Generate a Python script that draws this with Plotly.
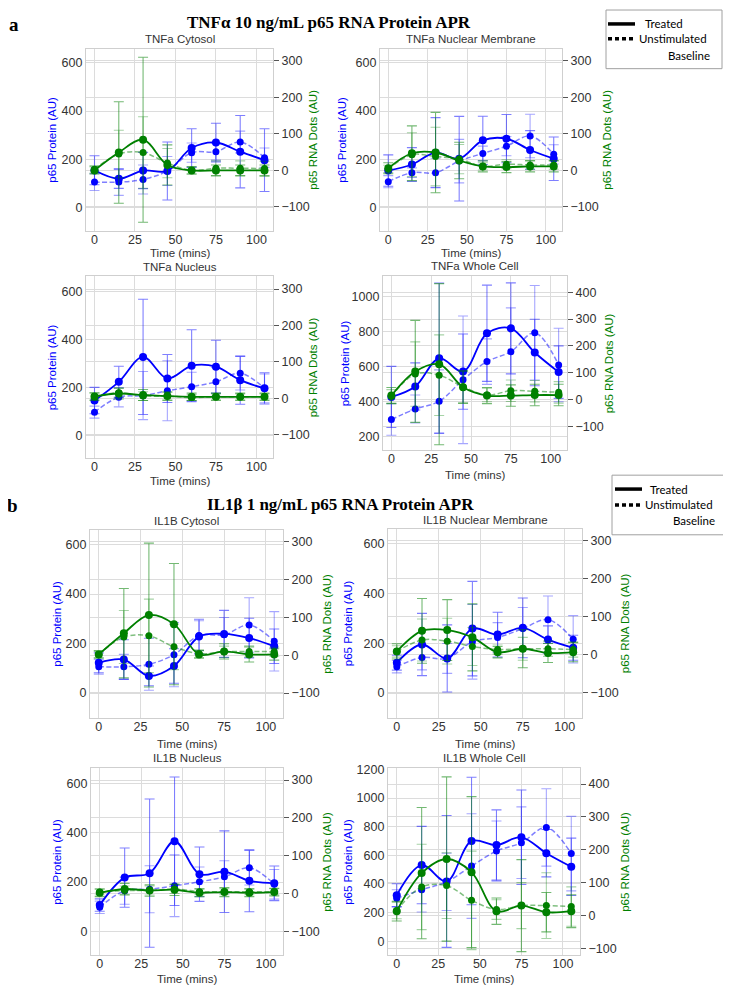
import plotly.graph_objects as go

time_pts = [0, 15, 30, 45, 60, 75, 90, 105]
x_ticks = [0, 25, 50, 75, 100]

# ---- TNFa Cytosol ----
tnf_cyto_prot_trt = [155, 120, 154, 152, 247, 270, 232, 197]
tnf_cyto_prot_trt_err = [60, 40, 75, 120, 80, 80, 150, 130]
tnf_cyto_prot_base = [106, 106, 117, 152, 228, 232, 272, 207]
tnf_cyto_prot_base_err = [35, 55, 60, 60, 40, 35, 45, 40]
tnf_cyto_rna_trt = [0, 49, 84, 15, 0, 0, 0, 0]
tnf_cyto_rna_trt_err = [10, 139, 226, 55, 10, 15, 15, 15]
tnf_cyto_rna_base = [3, 45, 49, 20, 0, 6, 6, 5]
tnf_cyto_rna_base_err = [10, 65, 98, 40, 10, 20, 20, 20]

# ---- TNFa Nuclear Membrane ----
tnf_nm_prot_trt = [154, 179, 228, 203, 279, 286, 239, 203]
tnf_nm_prot_trt_err = [65, 70, 145, 175, 100, 100, 80, 90]
tnf_nm_prot_base = [108, 145, 145, 193, 225, 255, 297, 221]
tnf_nm_prot_base_err = [25, 20, 60, 90, 30, 40, 90, 40]
tnf_nm_rna_trt = [6, 47, 49, 27, 11, 9, 11, 11]
tnf_nm_rna_trt_err = [15, 75, 110, 50, 15, 15, 15, 15]
tnf_nm_rna_base = [4, 43, 38, 31, 11, 17, 15, 15]
tnf_nm_rna_base_err = [10, 60, 80, 40, 10, 12, 12, 12]

# ---- TNFa Nucleus ----
tnf_nuc_prot_trt = [145, 223, 327, 237, 290, 286, 230, 196]
tnf_nuc_prot_trt_err = [55, 65, 240, 100, 150, 110, 100, 65]
tnf_nuc_prot_base = [97, 159, 166, 186, 203, 223, 259, 196]
tnf_nuc_prot_base_err = [25, 40, 100, 125, 60, 60, 70, 60]
tnf_nuc_rna_trt = [5, 13, 9, 6, 4, 4, 4, 4]
tnf_nuc_rna_trt_err = [10, 15, 15, 12, 10, 10, 10, 10]
tnf_nuc_rna_base = [4, 15, 6, 6, 2, 4, 4, 4]
tnf_nuc_rna_base_err = [10, 12, 12, 10, 8, 8, 8, 8]

# ---- TNFa Whole Cell ----
tnf_wc_prot_trt = [425, 485, 646, 570, 789, 817, 679, 567]
tnf_wc_prot_trt_err = [175, 135, 430, 215, 275, 260, 190, 150]
tnf_wc_prot_base = [296, 356, 400, 523, 627, 684, 792, 608]
tnf_wc_prot_base_err = [90, 80, 180, 365, 130, 250, 270, 210]
tnf_wc_rna_trt = [15, 105, 132, 46, 15, 15, 17, 17]
tnf_wc_rna_trt_err = [30, 190, 300, 60, 30, 40, 40, 40]
tnf_wc_rna_base = [12, 95, 91, 48, 17, 33, 31, 27]
tnf_wc_rna_base_err = [25, 120, 150, 60, 25, 40, 40, 40]

# ---- IL1B Cytosol ----
il_cyto_prot_trt = [122, 135, 69, 109, 228, 239, 222, 189]
il_cyto_prot_trt_err = [40, 80, 40, 70, 70, 95, 80, 70]
il_cyto_prot_base = [106, 106, 116, 155, 232, 235, 275, 209]
il_cyto_prot_base_err = [30, 50, 105, 130, 60, 70, 110, 120]
il_cyto_rna_trt = [2, 58, 106, 82, 2, 10, 2, 2]
il_cyto_rna_trt_err = [10, 118, 190, 160, 10, 20, 20, 15]
il_cyto_rna_base = [2, 48, 51, 22, 4, 9, 10, 9]
il_cyto_rna_base_err = [8, 70, 97, 60, 10, 15, 15, 12]

# ---- IL1B Nuclear Membrane ----
il_nm_prot_trt = [122, 195, 139, 259, 235, 262, 215, 182]
il_nm_prot_trt_err = [30, 125, 135, 190, 90, 120, 55, 50]
il_nm_prot_base = [106, 143, 139, 206, 223, 259, 295, 216]
il_nm_prot_base_err = [25, 50, 60, 150, 60, 85, 95, 95]
il_nm_rna_trt = [9, 63, 65, 46, 7, 16, 5, 7]
il_nm_rna_trt_err = [20, 85, 80, 88, 15, 50, 25, 25]
il_nm_rna_base = [9, 39, 36, 22, 14, 16, 16, 14]
il_nm_rna_base_err = [15, 55, 60, 50, 12, 30, 20, 20]

# ---- IL1B Nucleus ----
il_nuc_prot_trt = [107, 218, 236, 365, 232, 242, 205, 195]
il_nuc_prot_trt_err = [25, 120, 300, 260, 110, 165, 125, 70]
il_nuc_prot_base = [98, 165, 171, 185, 201, 221, 258, 191]
il_nuc_prot_base_err = [25, 55, 95, 125, 60, 65, 70, 60]
il_nuc_rna_trt = [2, 12, 8, 10, 2, 4, 2, 4]
il_nuc_rna_trt_err = [10, 15, 15, 15, 10, 12, 10, 10]
il_nuc_rna_base = [4, 8, 8, 12, 5, 5, 5, 5]
il_nuc_rna_base_err = [8, 12, 12, 12, 8, 8, 8, 8]

# ---- IL1B Whole Cell ----
il_wc_prot_trt = [322, 532, 418, 700, 672, 726, 615, 520]
il_wc_prot_trt_err = [80, 270, 460, 445, 245, 330, 165, 200]
il_wc_prot_base = [300, 360, 415, 525, 630, 688, 795, 612]
il_wc_prot_base_err = [60, 155, 200, 365, 210, 250, 270, 260]
il_wc_rna_trt = [13, 129, 172, 132, 13, 30, 10, 13]
il_wc_rna_trt_err = [30, 200, 250, 230, 40, 140, 60, 50]
il_wc_rna_base = [15, 87, 91, 46, 18, 30, 30, 27]
il_wc_rna_base_err = [25, 130, 100, 150, 30, 70, 100, 60]

panel_titles = ["TNFa Cytosol", "TNFa Nuclear Membrane", "TNFa Nucleus", "TNFa Whole Cell",
                "IL1B Cytosol", "IL1B Nuclear Membrane", "IL1B Nucleus", "IL1B Whole Cell"]
left_ticks_std = [0, 200, 400, 600]
left_ticks_tnf_wc = [200, 400, 600, 800, 1000]
left_ticks_il_wc = [0, 200, 400, 600, 800, 1000, 1200]
right_ticks_std = [-100, 0, 100, 200, 300]
right_ticks_wc = [-100, 0, 100, 200, 300, 400]

# page body has an 8px margin; figure sized so it fills the rest of the window
OFF = 8
W, H = 731 - OFF, 989 - OFF
def fx(p): return (p - OFF) / W
def fy(p): return 1 - (p - OFF) / H

FONT = "Liberation Sans, Arial, sans-serif"
TXT = "#333333"
GRID = "#dcdcdc"
FRAME = "#cfcfcf"
BLUE = "#0000ff"
BLUE_L = "rgba(0,0,255,0.5)"
GREEN = "#008000"
GREEN_L = "rgba(0,128,0,0.5)"

panels = [
    (dict(pt=tnf_cyto_prot_trt, pte=tnf_cyto_prot_trt_err, pb=tnf_cyto_prot_base, pbe=tnf_cyto_prot_base_err,
          rt=tnf_cyto_rna_trt, rte=tnf_cyto_rna_trt_err, rb=tnf_cyto_rna_base, rbe=tnf_cyto_rna_base_err),
     (86, 273, 43, 226), [-95, 658], [-165, 333], left_ticks_std, right_ticks_std, 52, 313, 33, 248),
    (dict(pt=tnf_nm_prot_trt, pte=tnf_nm_prot_trt_err, pb=tnf_nm_prot_base, pbe=tnf_nm_prot_base_err,
          rt=tnf_nm_rna_trt, rte=tnf_nm_rna_trt_err, rb=tnf_nm_rna_base, rbe=tnf_nm_rna_base_err),
     (380, 562, 43, 226), [-95, 658], [-165, 333], left_ticks_std, right_ticks_std, 342, 607, 33, 248),
    (dict(pt=tnf_nuc_prot_trt, pte=tnf_nuc_prot_trt_err, pb=tnf_nuc_prot_base, pbe=tnf_nuc_prot_base_err,
          rt=tnf_nuc_rna_trt, rte=tnf_nuc_rna_trt_err, rb=tnf_nuc_rna_base, rbe=tnf_nuc_rna_base_err),
     (86, 273, 272, 455), [-95, 662], [-165, 335], left_ticks_std, right_ticks_std, 52, 313, 263, 478),
    (dict(pt=tnf_wc_prot_trt, pte=tnf_wc_prot_trt_err, pb=tnf_wc_prot_base, pbe=tnf_wc_prot_base_err,
          rt=tnf_wc_rna_trt, rte=tnf_wc_rna_trt_err, rb=tnf_wc_rna_base, rbe=tnf_wc_rna_base_err),
     (383, 567, 272, 447), [120, 1114], [-189, 459], left_ticks_tnf_wc, right_ticks_wc, 345, 609, 262, 472),
    (dict(pt=il_cyto_prot_trt, pte=il_cyto_prot_trt_err, pb=il_cyto_prot_base, pbe=il_cyto_prot_base_err,
          rt=il_cyto_rna_trt, rte=il_cyto_rna_trt_err, rb=il_cyto_rna_base, rbe=il_cyto_rna_base_err),
     (90, 283, 527, 716), [-100, 660], [-165, 331], left_ticks_std, right_ticks_std, 57, 327, 518, 742),
    (dict(pt=il_nm_prot_trt, pte=il_nm_prot_trt_err, pb=il_nm_prot_base, pbe=il_nm_prot_base_err,
          rt=il_nm_rna_trt, rte=il_nm_rna_trt_err, rb=il_nm_rna_base, rbe=il_nm_rna_base_err),
     (388, 582, 526, 716), [-99, 660], [-165, 331], left_ticks_std, right_ticks_std, 348, 625, 517, 742),
    (dict(pt=il_nuc_prot_trt, pte=il_nuc_prot_trt_err, pb=il_nuc_prot_base, pbe=il_nuc_prot_base_err,
          rt=il_nuc_rna_trt, rte=il_nuc_rna_trt_err, rb=il_nuc_rna_base, rbe=il_nuc_rna_base_err),
     (91, 283, 767, 955), [-96, 660], [-163, 331], left_ticks_std, right_ticks_std, 57, 327, 757, 979),
    (dict(pt=il_wc_prot_trt, pte=il_wc_prot_trt_err, pb=il_wc_prot_base, pbe=il_wc_prot_base_err,
          rt=il_wc_rna_trt, rte=il_wc_rna_trt_err, rb=il_wc_rna_base, rbe=il_wc_rna_base_err),
     (388, 580, 767, 955), [-97, 1207], [-121, 448], left_ticks_il_wc, right_ticks_wc, 348, 625, 757, 979),
]

fig = go.Figure()
layout = {}
annotations = []
shapes = []

def ax_id(prefix, n):
    return prefix if n == 1 else f"{prefix}{n}"

for i, (d, (x0, x1, y0, y1), lr, rr, lt, rt, ylx, yrx, ty, xty) in enumerate(panels, start=1):
    xid = ax_id("x", i)
    ylid = ax_id("y", 2 * i - 1)
    yrid = ax_id("y", 2 * i)
    xkey = "xaxis" if i == 1 else f"xaxis{i}"
    ylkey = "yaxis" if 2 * i - 1 == 1 else f"yaxis{2 * i - 1}"
    yrkey = f"yaxis{2 * i}"
    tickfont = dict(family=FONT, size=12.5, color=TXT)
    layout[xkey] = dict(domain=[fx(x0), fx(x1)], anchor=ylid, range=[-5.25, 110.25],
                        tickvals=x_ticks, showgrid=True, gridcolor=GRID, gridwidth=1,
                        zeroline=False, showline=True, linecolor=FRAME, linewidth=1.3, mirror=True,
                        ticks="", ticklabelstandoff=-3, tickfont=tickfont, fixedrange=True)
    layout[ylkey] = dict(domain=[fy(y1), fy(y0)], anchor=xid, range=lr, tickvals=lt,
                         showgrid=True, gridcolor=GRID, gridwidth=1, zeroline=False,
                         showline=True, linecolor=FRAME, linewidth=1.3, mirror=True,
                         ticks="", tickfont=tickfont, fixedrange=True)
    layout[yrkey] = dict(overlaying=ylid, side="right", anchor=xid, range=rr, tickvals=rt,
                         showgrid=True, gridcolor=GRID, gridwidth=1, zeroline=False,
                         showline=False, ticks="outside", ticklen=5, tickcolor="#555555",
                         tickwidth=1, tickfont=tickfont, fixedrange=True)

    def add(y, err, color, lcolor, ecolor, dash, yid, msize):
        fig.add_trace(go.Scatter(
            x=time_pts, y=y, xaxis=xid, yaxis=yid, mode="lines+markers",
            line=dict(color=lcolor, width=1.8 if dash == "solid" else 1.5, dash=dash,
                      shape="spline", smoothing=1.0),
            marker=dict(color=color, size=msize),
            error_y=dict(type="data", array=err, color=ecolor, thickness=1.1, width=5),
            showlegend=False, hoverinfo="skip"))

    add(d["pb"], d["pbe"], BLUE, BLUE_L, "rgba(0,0,255,0.35)", "5px,2.5px", ylid, 7)
    add(d["pt"], d["pte"], BLUE, BLUE, "rgba(0,0,255,0.5)", "solid", ylid, 8)
    add(d["rb"], d["rbe"], GREEN, GREEN_L, "rgba(0,128,0,0.35)", "5px,2.5px", yrid, 7)
    add(d["rt"], d["rte"], GREEN, GREEN, "rgba(0,128,0,0.55)", "solid", yrid, 8)

    cx = (x0 + x1) / 2
    cy = (y0 + y1) / 2
    annotations += [
        dict(text=panel_titles[i - 1], x=fx(cx), y=fy(ty), xref="paper", yref="paper",
             showarrow=False, xanchor="center", yanchor="middle",
             font=dict(family=FONT, size=11.5, color=TXT)),
        dict(text="Time (mins)", x=fx(cx), y=fy(xty), xref="paper", yref="paper",
             showarrow=False, xanchor="center", yanchor="middle",
             font=dict(family=FONT, size=11.5, color=TXT)),
        dict(text="p65 Protein (AU)", x=fx(ylx), y=fy(cy), xref="paper", yref="paper",
             showarrow=False, xanchor="center", yanchor="middle", textangle=-90,
             font=dict(family=FONT, size=11.5, color=BLUE)),
        dict(text="p65 RNA Dots (AU)", x=fx(yrx), y=fy(cy), xref="paper", yref="paper",
             showarrow=False, xanchor="center", yanchor="middle", textangle=-90,
             font=dict(family=FONT, size=11.5, color=GREEN)),
    ]

SERIF = "Liberation Serif, Times New Roman, serif"
annotations += [
    dict(text="<b>a</b>", x=fx(14), y=fy(19), xref="paper", yref="paper", showarrow=False,
         xanchor="center", yanchor="middle", font=dict(family=SERIF, size=19, color="black")),
    dict(text="<b>TNFα 10 ng/mL p65 RNA Protein APR</b>", x=fx(329), y=fy(17), xref="paper", yref="paper",
         showarrow=False, xanchor="center", yanchor="middle", font=dict(family=SERIF, size=17, color="black")),
    dict(text="<b>b</b>", x=fx(12), y=fy(503), xref="paper", yref="paper", showarrow=False,
         xanchor="center", yanchor="middle", font=dict(family=SERIF, size=19, color="black")),
    dict(text="<b>IL1β 1 ng/mL p65 RNA Protein APR</b>", x=fx(340), y=fy(502), xref="paper", yref="paper",
         showarrow=False, xanchor="center", yanchor="middle", font=dict(family=SERIF, size=17, color="black")),
]

LEGF = dict(family="Lato, Open Sans, sans-serif", size=11.5, color="black")
for (bx0, by0, bx1, by1, lx0, lx1, ys, yd, yb, tx_t, tx_u, tx_b) in [
        (606, 4, 722, 63, 608, 635, 18, 33, 50, 643, 637, 712),
        (612, 472, 728, 532, 615, 642, 486, 502, 518, 648, 643, 717)]:
    shapes.append(dict(type="rect", xref="paper", yref="paper", x0=fx(bx0), x1=fx(bx1),
                       y0=fy(by1), y1=fy(by0), line=dict(color="#a0a0a0", width=1), fillcolor="white"))
    shapes.append(dict(type="line", xref="paper", yref="paper", x0=fx(lx0), x1=fx(lx1),
                       y0=fy(ys), y1=fy(ys), line=dict(color="black", width=3.5)))
    shapes.append(dict(type="line", xref="paper", yref="paper", x0=fx(lx0), x1=fx(lx1 + 1),
                       y0=fy(yd), y1=fy(yd), line=dict(color="black", width=3.5, dash="4px,3px")))
    annotations += [
        dict(text="Treated", x=fx(tx_t), y=fy(ys), xref="paper", yref="paper", showarrow=False,
             xanchor="left", yanchor="middle", font=LEGF),
        dict(text="Unstimulated", x=fx(tx_u), y=fy(yd), xref="paper", yref="paper", showarrow=False,
             xanchor="left", yanchor="middle", font=LEGF),
        dict(text="Baseline", x=fx(tx_b), y=fy(yb), xref="paper", yref="paper", showarrow=False,
             xanchor="right", yanchor="middle", font=LEGF),
    ]

fig.update_layout(width=W, height=H, margin=dict(l=0, r=0, t=0, b=0),
                  paper_bgcolor="white", plot_bgcolor="white", showlegend=False,
                  annotations=annotations, shapes=shapes, **layout)
fig.write_html("out.html")
